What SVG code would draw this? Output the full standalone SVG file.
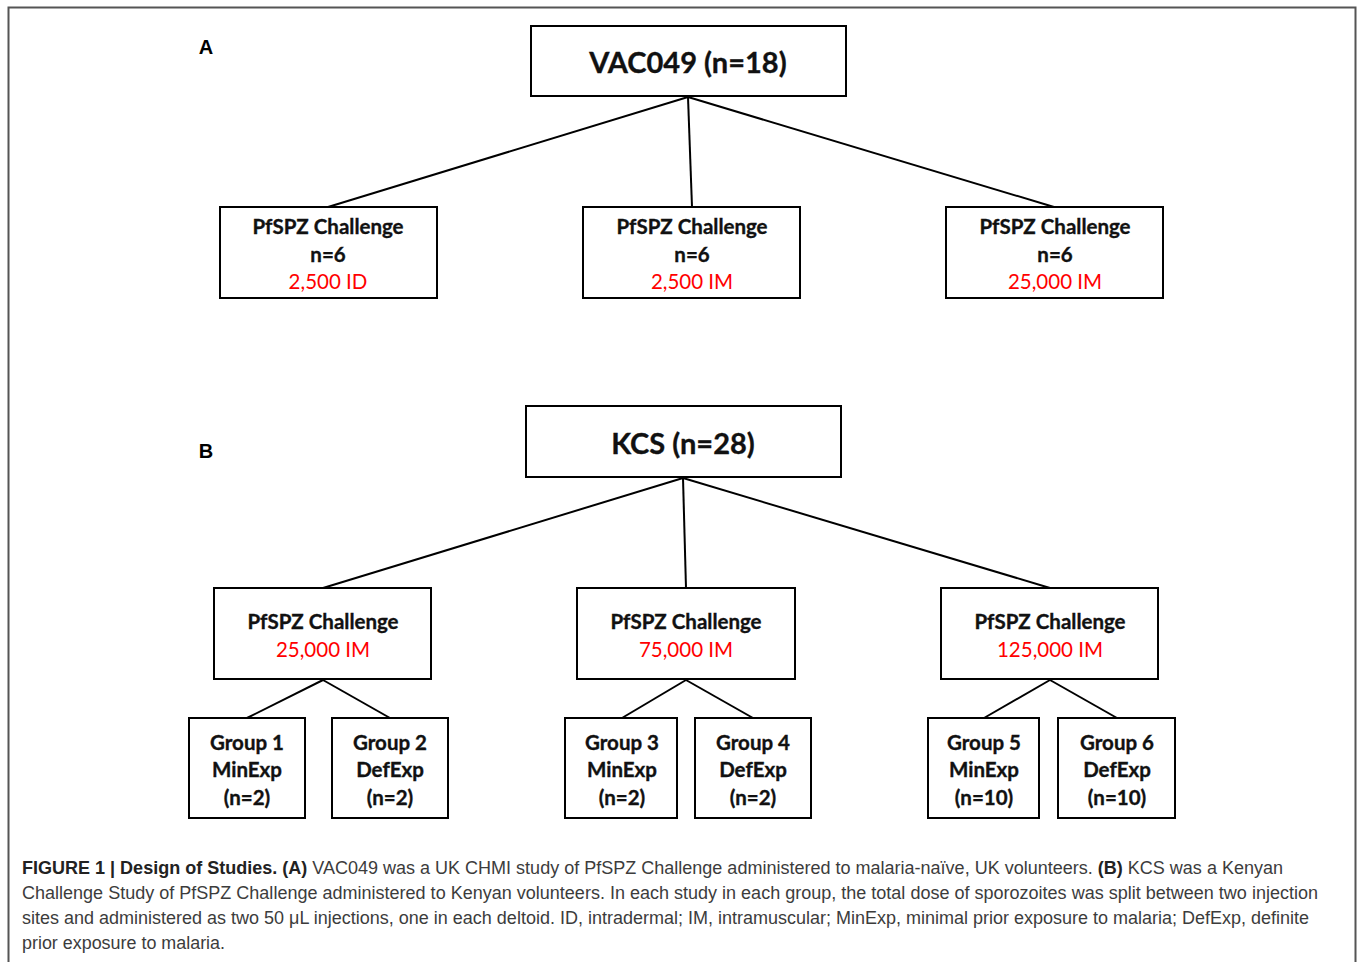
<svg xmlns="http://www.w3.org/2000/svg" width="1358" height="962" viewBox="0 0 1358 962">
<style>
.box{fill:#fff;stroke:#000;stroke-width:2}
.t{font-family:Lato,"Open Sans",sans-serif;font-weight:bold;font-size:20.5px;fill:#111;stroke:#111;stroke-width:0.35;text-anchor:middle}
.r{font-family:Lato,"Open Sans",sans-serif;font-weight:normal;font-size:20.5px;fill:#ff0000;text-anchor:middle}
.big{font-size:29px}
.lab{font-family:"Liberation Sans",Arial,sans-serif;font-weight:bold;font-size:20px;fill:#000;text-anchor:middle}
.cap{font-family:"Liberation Sans",Arial,sans-serif;font-size:17.5px;fill:#3c3c3c}
.b{font-weight:bold;fill:#222}
.con line{stroke:#000;stroke-width:2}
</style>
<rect x="0" y="0" width="1358" height="962" fill="#fff"/>
<path d="M8.5 970 V7.5 H1355.5 V970" fill="none" stroke="#555" stroke-width="2"/>
<text class="lab" x="206" y="54">A</text>
<text class="lab" x="206" y="458">B</text>
<g class="con">
<line x1="688" y1="97" x2="328" y2="207"/>
<line x1="688" y1="97" x2="692" y2="207"/>
<line x1="688" y1="97" x2="1054" y2="207"/>
<line x1="683" y1="478" x2="323" y2="588"/>
<line x1="683" y1="478" x2="686" y2="588"/>
<line x1="683" y1="478" x2="1050" y2="588"/>
<line x1="323" y1="680" x2="247" y2="718"/>
<line x1="323" y1="680" x2="390" y2="718"/>
<line x1="686" y1="680" x2="622" y2="718"/>
<line x1="686" y1="680" x2="753" y2="718"/>
<line x1="1050" y1="680" x2="984" y2="718"/>
<line x1="1050" y1="680" x2="1117" y2="718"/>
</g>
<g id="vac049"><rect class="box" x="531" y="26" width="315" height="70"/><text class="t big" x="688" y="73">VAC049 (n=18)</text></g>
<g id="a1"><rect class="box" x="220" y="207" width="217" height="91"/><text class="t" x="328" y="234">PfSPZ Challenge</text><text class="t" x="328" y="262">n=6</text><text class="r" x="328" y="289">2,500 ID</text></g>
<g id="a2"><rect class="box" x="583" y="207" width="217" height="91"/><text class="t" x="692" y="234">PfSPZ Challenge</text><text class="t" x="692" y="262">n=6</text><text class="r" x="692" y="289">2,500 IM</text></g>
<g id="a3"><rect class="box" x="946" y="207" width="217" height="91"/><text class="t" x="1055" y="234">PfSPZ Challenge</text><text class="t" x="1055" y="262">n=6</text><text class="r" x="1055" y="289">25,000 IM</text></g>
<g id="kcs"><rect class="box" x="526" y="406" width="315" height="71"/><text class="t big" x="683" y="454">KCS (n=28)</text></g>
<g id="b1"><rect class="box" x="214" y="588" width="217" height="91"/><text class="t" x="323" y="629">PfSPZ Challenge</text><text class="r" x="323" y="657">25,000 IM</text></g>
<g id="b2"><rect class="box" x="577" y="588" width="218" height="91"/><text class="t" x="686" y="629">PfSPZ Challenge</text><text class="r" x="686" y="657">75,000 IM</text></g>
<g id="b3"><rect class="box" x="941" y="588" width="217" height="91"/><text class="t" x="1050" y="629">PfSPZ Challenge</text><text class="r" x="1050" y="657">125,000 IM</text></g>
<g id="g1"><rect class="box" x="189" y="718" width="116" height="100"/><text class="t" x="247" y="750">Group 1</text><text class="t" x="247" y="777">MinExp</text><text class="t" x="247" y="805">(n=2)</text></g>
<g id="g2"><rect class="box" x="332" y="718" width="116" height="100"/><text class="t" x="390" y="750">Group 2</text><text class="t" x="390" y="777">DefExp</text><text class="t" x="390" y="805">(n=2)</text></g>
<g id="g3"><rect class="box" x="565" y="718" width="112" height="100"/><text class="t" x="622" y="750">Group 3</text><text class="t" x="622" y="777">MinExp</text><text class="t" x="622" y="805">(n=2)</text></g>
<g id="g4"><rect class="box" x="695" y="718" width="116" height="100"/><text class="t" x="753" y="750">Group 4</text><text class="t" x="753" y="777">DefExp</text><text class="t" x="753" y="805">(n=2)</text></g>
<g id="g5"><rect class="box" x="928" y="718" width="111" height="100"/><text class="t" x="984" y="750">Group 5</text><text class="t" x="984" y="777">MinExp</text><text class="t" x="984" y="805">(n=10)</text></g>
<g id="g6"><rect class="box" x="1058" y="718" width="117" height="100"/><text class="t" x="1117" y="750">Group 6</text><text class="t" x="1117" y="777">DefExp</text><text class="t" x="1117" y="805">(n=10)</text></g>
<g id="caption">
<text class="cap" x="22" y="874" textLength="1261" lengthAdjust="spacingAndGlyphs"><tspan class="b">FIGURE 1 | Design of Studies. (A)</tspan> VAC049 was a UK CHMI study of PfSPZ Challenge administered to malaria-naïve, UK volunteers. <tspan class="b">(B)</tspan> KCS was a Kenyan</text>
<text class="cap" x="22" y="899" textLength="1296" lengthAdjust="spacingAndGlyphs">Challenge Study of PfSPZ Challenge administered to Kenyan volunteers. In each study in each group, the total dose of sporozoites was split between two injection</text>
<text class="cap" x="22" y="924" textLength="1287" lengthAdjust="spacingAndGlyphs">sites and administered as two 50 μL injections, one in each deltoid. ID, intradermal; IM, intramuscular; MinExp, minimal prior exposure to malaria; DefExp, definite</text>
<text class="cap" x="22" y="949" textLength="203" lengthAdjust="spacingAndGlyphs">prior exposure to malaria.</text>
</g>
</svg>
